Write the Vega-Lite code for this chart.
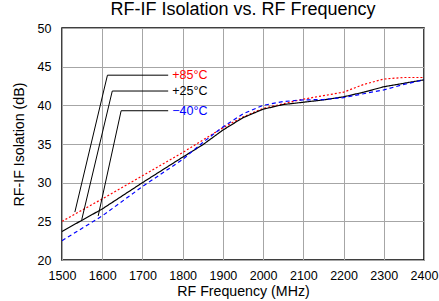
{
  "$schema": "https://vega.github.io/schema/vega-lite/v6.json",
  "width": 362,
  "height": 232,
  "autosize": {"type": "none"},
  "padding": {"left": 62, "top": 28, "right": 15, "bottom": 41},
  "background": "white",
  "config": {
    "font": "Liberation Sans",
    "view": {"stroke": "#000000", "strokeWidth": 1.5},
    "axis": {
      "grid": true,
      "gridColor": "#a6a6a6",
      "gridWidth": 1,
      "domain": false,
      "ticks": false,
      "labelOverlap": false,
      "labelFlush": false,
      "labelFont": "Liberation Sans",
      "labelFontSize": 12.5,
      "labelColor": "#000000",
      "titleFont": "Liberation Sans",
      "titleFontSize": 14.2,
      "titleFontWeight": "normal",
      "titleColor": "#000000"
    }
  },
  "title": {
    "text": "RF-IF Isolation vs. RF Frequency",
    "font": "Liberation Sans",
    "fontSize": 18,
    "fontWeight": "normal",
    "color": "#000000",
    "anchor": "middle",
    "offset": 3
  },
  "datasets": {
    "curves": [
      {"f": 1500, "v": 25.0, "t": "+85°C"},
      {"f": 1600, "v": 27.9, "t": "+85°C"},
      {"f": 1700, "v": 30.9, "t": "+85°C"},
      {"f": 1800, "v": 33.9, "t": "+85°C"},
      {"f": 1850, "v": 35.5, "t": "+85°C"},
      {"f": 1900, "v": 37.1, "t": "+85°C"},
      {"f": 1950, "v": 38.5, "t": "+85°C"},
      {"f": 2000, "v": 39.6, "t": "+85°C"},
      {"f": 2050, "v": 40.2, "t": "+85°C"},
      {"f": 2100, "v": 40.8, "t": "+85°C"},
      {"f": 2150, "v": 41.25, "t": "+85°C"},
      {"f": 2200, "v": 41.7, "t": "+85°C"},
      {"f": 2250, "v": 42.7, "t": "+85°C"},
      {"f": 2300, "v": 43.4, "t": "+85°C"},
      {"f": 2350, "v": 43.6, "t": "+85°C"},
      {"f": 2400, "v": 43.6, "t": "+85°C"},
      {"f": 1500, "v": 23.7, "t": "+25°C"},
      {"f": 1600, "v": 26.6, "t": "+25°C"},
      {"f": 1700, "v": 30.0, "t": "+25°C"},
      {"f": 1800, "v": 33.3, "t": "+25°C"},
      {"f": 1850, "v": 34.9, "t": "+25°C"},
      {"f": 1900, "v": 36.8, "t": "+25°C"},
      {"f": 1950, "v": 38.4, "t": "+25°C"},
      {"f": 2000, "v": 39.5, "t": "+25°C"},
      {"f": 2050, "v": 40.1, "t": "+25°C"},
      {"f": 2100, "v": 40.4, "t": "+25°C"},
      {"f": 2150, "v": 40.7, "t": "+25°C"},
      {"f": 2200, "v": 41.1, "t": "+25°C"},
      {"f": 2250, "v": 41.7, "t": "+25°C"},
      {"f": 2300, "v": 42.4, "t": "+25°C"},
      {"f": 2350, "v": 42.85, "t": "+25°C"},
      {"f": 2400, "v": 43.3, "t": "+25°C"},
      {"f": 1500, "v": 22.5, "t": "−40°C"},
      {"f": 1600, "v": 25.7, "t": "−40°C"},
      {"f": 1700, "v": 29.5, "t": "−40°C"},
      {"f": 1800, "v": 33.0, "t": "−40°C"},
      {"f": 1850, "v": 35.2, "t": "−40°C"},
      {"f": 1900, "v": 37.2, "t": "−40°C"},
      {"f": 1950, "v": 38.9, "t": "−40°C"},
      {"f": 2000, "v": 40.0, "t": "−40°C"},
      {"f": 2050, "v": 40.5, "t": "−40°C"},
      {"f": 2100, "v": 40.7, "t": "−40°C"},
      {"f": 2150, "v": 40.75, "t": "−40°C"},
      {"f": 2200, "v": 41.0, "t": "−40°C"},
      {"f": 2250, "v": 41.5, "t": "−40°C"},
      {"f": 2300, "v": 42.0, "t": "−40°C"},
      {"f": 2350, "v": 42.7, "t": "−40°C"},
      {"f": 2400, "v": 43.3, "t": "−40°C"}
    ],
    "leaders": [
      {"k": "r", "o": 1, "f": 1532, "v": 26.2},
      {"k": "r", "o": 2, "f": 1613, "v": 43.9},
      {"k": "r", "o": 3, "f": 1764, "v": 43.9},
      {"k": "b", "o": 1, "f": 1549, "v": 25.2},
      {"k": "b", "o": 2, "f": 1625, "v": 41.85},
      {"k": "b", "o": 3, "f": 1764, "v": 41.85},
      {"k": "u", "o": 1, "f": 1590, "v": 25.7},
      {"k": "u", "o": 2, "f": 1647, "v": 39.3},
      {"k": "u", "o": 3, "f": 1764, "v": 39.3}
    ],
    "labels": [
      {"f": 1774, "v": 43.9, "t": "+85°C"},
      {"f": 1774, "v": 41.85, "t": "+25°C"},
      {"f": 1774, "v": 39.3, "t": "−40°C"}
    ]
  },
  "encoding": {
    "x": {
      "field": "f", "type": "quantitative",
      "scale": {"domain": [1500, 2400], "nice": false, "zero": false},
      "axis": {"title": "RF Frequency (MHz)", "format": "d", "values": [1500,1600,1700,1800,1900,2000,2100,2200,2300,2400], "labelPadding": 9, "titlePadding": 3}
    },
    "y": {
      "field": "v", "type": "quantitative",
      "scale": {"domain": [20, 50], "nice": false, "zero": false},
      "axis": {"title": "RF-IF Isolation (dB)", "format": "d", "values": [20,25,30,35,40,45,50], "tickCount": 7, "labelPadding": 11, "titlePadding": 11}
    }
  },
  "layer": [
    {
      "data": {"name": "curves"},
      "mark": {"type": "line", "strokeWidth": 1.2, "clip": true},
      "encoding": {
        "color": {
          "field": "t", "type": "nominal",
          "scale": {"domain": ["+85°C", "+25°C", "−40°C"], "range": ["#ff0000", "#000000", "#0000ff"]},
          "legend": null
        },
        "strokeDash": {
          "field": "t", "type": "nominal",
          "scale": {"domain": ["+85°C", "+25°C", "−40°C"], "range": [[2, 2], [1, 0], [4, 3]]},
          "legend": null
        }
      }
    },
    {
      "data": {"name": "leaders"},
      "mark": {"type": "line", "color": "#000000", "strokeWidth": 1},
      "encoding": {
        "detail": {"field": "k"},
        "order": {"field": "o"}
      }
    },
    {
      "data": {"name": "labels"},
      "mark": {"type": "text", "align": "left", "baseline": "middle", "fontSize": 12.5, "font": "Liberation Sans"},
      "encoding": {
        "text": {"field": "t"},
        "color": {
          "field": "t", "type": "nominal",
          "scale": {"domain": ["+85°C", "+25°C", "−40°C"], "range": ["#ff0000", "#000000", "#0000ff"]},
          "legend": null
        }
      }
    }
  ]
}
